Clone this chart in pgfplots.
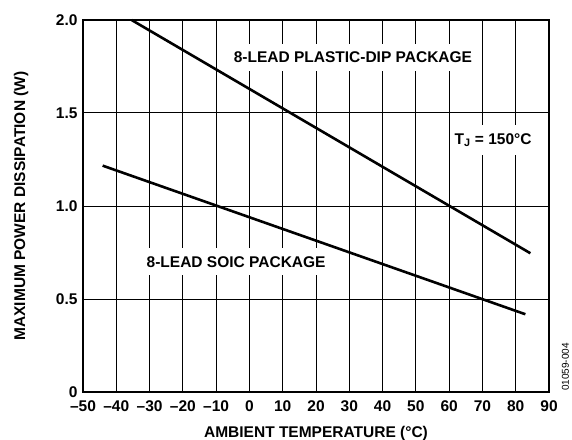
\documentclass[border=0pt]{standalone}
\usepackage{pgfplots}
\pgfplotsset{compat=1.18}
\usepackage{fontspec}
\setmainfont{Liberation Sans}
\begin{document}
\begin{tikzpicture}
\useasboundingbox (-83pt,-47pt) rectangle (489pt,392pt);
\begin{axis}[
  scale only axis,
  width=466pt, height=372pt,
  xmin=-50, xmax=90, ymin=0, ymax=2,
  xtick={-50,-40,...,90},
  xticklabels={\textendash50,\textendash40,\textendash30,\textendash20,\textendash10,0,10,20,30,40,50,60,70,80,90},
  ytick={0,0.5,1,1.5,2},
  yticklabels={0,0.5,1.0,1.5,2.0},
  major tick length=0pt,
  xmajorgrids, ymajorgrids,
  grid style={black, line width=1pt},
  axis line style={black, line width=1.6pt},
  tick label style={font=\fontsize{15.5}{18}\selectfont\bfseries},
  xticklabel style={yshift=-5pt},
  yticklabel style={xshift=-2pt},
  label style={font=\fontsize{15.5}{18}\selectfont\bfseries},
  xlabel={AMBIENT TEMPERATURE (°C)},
  ylabel={MAXIMUM POWER DISSIPATION (W)},
  xlabel style={at={([yshift=-41pt]axis description cs:0.5,0)}, anchor=center},
  ylabel style={at={([xshift=-62pt]axis description cs:0,0.5)}, anchor=center},
  clip=false,
]
\addplot[black, line width=2.6pt] coordinates {(-35.4,2.0) (84.4,0.746)};
\addplot[black, line width=2.6pt] coordinates {(-44.1,1.217) (82.9,0.418)};
\node[fill=white, inner xsep=2pt, inner ysep=8pt, font=\fontsize{15.5}{18}\selectfont\bfseries] at (axis cs:31.1,1.80) {8-LEAD PLASTIC-DIP PACKAGE};
\node[fill=white, inner xsep=2pt, inner ysep=8pt, font=\fontsize{15.5}{18}\selectfont\bfseries] at (axis cs:73.2,1.355) {T\textsubscript{J} = 150°C};
\node[fill=white, inner xsep=2pt, inner ysep=8pt, font=\fontsize{15.5}{18}\selectfont\bfseries] at (axis cs:-4,0.70) {8-LEAD SOIC PACKAGE};
\node[rotate=90, font=\fontsize{10}{12}\selectfont, inner sep=0pt] at ([xshift=16.5pt, yshift=25pt]rel axis cs:1,0) {01059-004};
\end{axis}
\end{tikzpicture}
\end{document}
